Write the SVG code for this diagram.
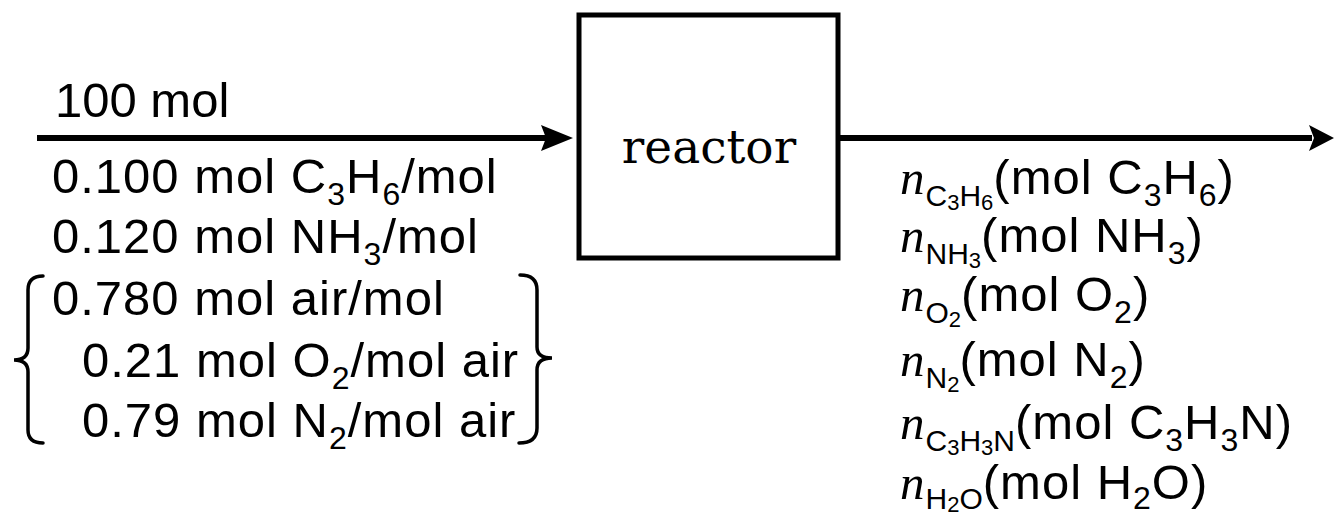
<svg xmlns="http://www.w3.org/2000/svg" width="1334" height="517" viewBox="0 0 1334 517">
<style>
.t{font-family:"Liberation Sans",Arial,sans-serif;font-size:49px;letter-spacing:1px;fill:#000}
.s{font-size:32px}
.ss{font-size:30px;letter-spacing:0}
.sss{font-size:22px;letter-spacing:0}
.n{font-family:"Liberation Serif","Times New Roman",serif;font-style:italic;font-size:49px}
.lbl{font-family:"DejaVu Serif",serif;font-size:47px;fill:#000}
.ln{stroke:#000;stroke-width:6;fill:none}
.br{stroke:#000;stroke-width:3.5;fill:none;stroke-linecap:round}
</style>
<rect width="1334" height="517" fill="#fff"/>
<g id="connectors">
<line class="ln" x1="37" y1="138" x2="548" y2="138"/>
<polygon points="573,138 541,125 546,138 541,151" fill="#000"/>
<line class="ln" x1="840" y1="138" x2="1312" y2="138"/>
<polygon points="1334,138 1309,125 1314,138 1309,151" fill="#000"/>
</g>
<g id="reactor">
<rect x="579" y="15" width="259" height="243" fill="#fff" stroke="#000" stroke-width="5"/>
<text class="lbl" x="709" y="163" text-anchor="middle">reactor</text>
</g>
<g id="feed">
<text class="t" x="55" y="117" style="letter-spacing:0">100 mol</text>
<text class="t" x="52" y="193">0.100 mol C<tspan class="s" dy="12">3</tspan><tspan dy="-12">H</tspan><tspan class="s" dy="12">6</tspan><tspan dy="-12">/mol</tspan></text>
<text class="t" x="52" y="253">0.120 mol NH<tspan class="s" dy="12">3</tspan><tspan dy="-12">/mol</tspan></text>
<text class="t" x="52" y="315">0.780 mol air/mol</text>
<text class="t" x="82" y="377">0.21 mol O<tspan class="s" dy="12">2</tspan><tspan dy="-12">/mol air</tspan></text>
<text class="t" x="82" y="437">0.79 mol N<tspan class="s" dy="12">2</tspan><tspan dy="-12">/mol air</tspan></text>
<path class="br" d="M43,276 Q28,276 28,290 L28,348 Q28,360 14,360 Q28,360 28,372 L28,430 Q28,443 43,443"/>
<path class="br" d="M520,275 Q537,275 537,290 L537,347 Q537,358 552,358 Q537,358 537,370 L537,428 Q537,443 519,443"/>
</g>
<g id="product">
<text class="t" x="900" y="194"><tspan class="n">n</tspan><tspan class="ss" dy="12">C</tspan><tspan class="sss" dy="4">3</tspan><tspan class="ss" dy="-4">H</tspan><tspan class="sss" dy="4">6</tspan><tspan dy="-16">(mol C</tspan><tspan class="s" dy="12">3</tspan><tspan dy="-12">H</tspan><tspan class="s" dy="12">6</tspan><tspan dy="-12">)</tspan></text>
<text class="t" x="900" y="252"><tspan class="n">n</tspan><tspan class="ss" dy="12">NH</tspan><tspan class="sss" dy="4">3</tspan><tspan dy="-16">(mol NH</tspan><tspan class="s" dy="12">3</tspan><tspan dy="-12">)</tspan></text>
<text class="t" x="900" y="311"><tspan class="n">n</tspan><tspan class="ss" dy="12">O</tspan><tspan class="sss" dy="4">2</tspan><tspan dy="-16">(mol O</tspan><tspan class="s" dy="12">2</tspan><tspan dy="-12">)</tspan></text>
<text class="t" x="900" y="376"><tspan class="n">n</tspan><tspan class="ss" dy="12">N</tspan><tspan class="sss" dy="4">2</tspan><tspan dy="-16">(mol N</tspan><tspan class="s" dy="12">2</tspan><tspan dy="-12">)</tspan></text>
<text class="t" x="900" y="439"><tspan class="n">n</tspan><tspan class="ss" dy="12">C</tspan><tspan class="sss" dy="4">3</tspan><tspan class="ss" dy="-4">H</tspan><tspan class="sss" dy="4">3</tspan><tspan class="ss" dy="-4">N</tspan><tspan dy="-12">(mol C</tspan><tspan class="s" dy="12">3</tspan><tspan dy="-12">H</tspan><tspan class="s" dy="12">3</tspan><tspan dy="-12">N)</tspan></text>
<text class="t" x="900" y="499"><tspan class="n">n</tspan><tspan class="ss" dy="10">H</tspan><tspan class="sss" dy="3">2</tspan><tspan class="ss" dy="-3">O</tspan><tspan dy="-10">(mol H</tspan><tspan class="s" dy="10">2</tspan><tspan dy="-10">O)</tspan></text>
</g>
</svg>
